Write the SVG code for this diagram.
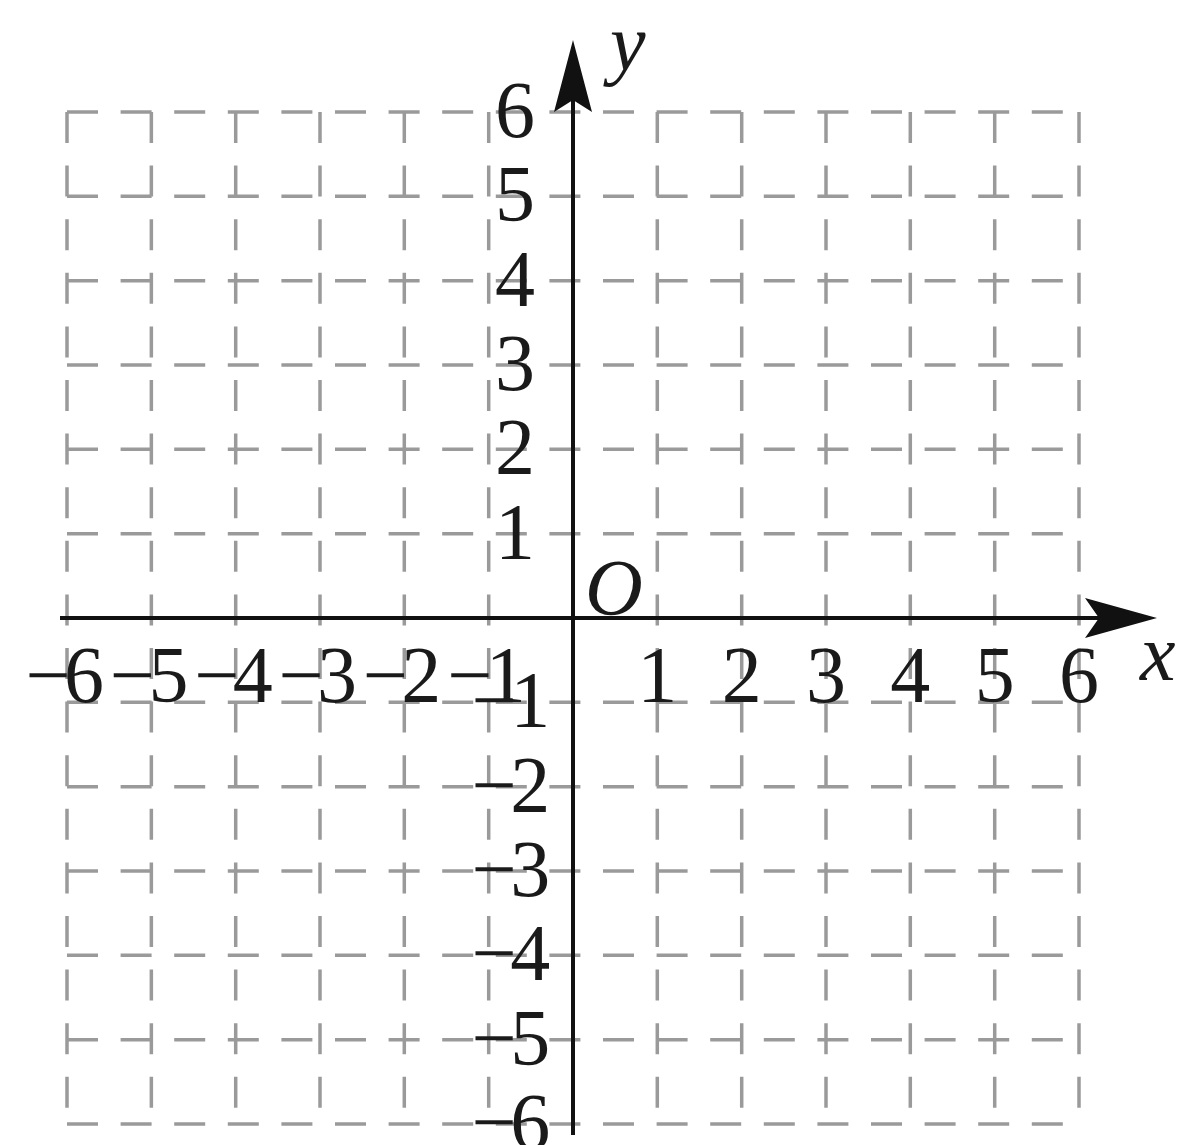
<svg xmlns="http://www.w3.org/2000/svg" width="1179" height="1145" viewBox="0 0 1179 1145">
<style>
.grid line{stroke:#9a9a9a;stroke-width:3.5;stroke-dasharray:31 22.6;fill:none}
.axis{stroke:#111;stroke-width:4;fill:none}
.head{fill:#111;stroke:none}
text{font-family:"Liberation Serif","Times New Roman",serif;font-size:80px;fill:#1a1a1a}
.c{text-anchor:middle}
.e{text-anchor:end}
.it{font-style:italic}
</style>
<rect width="1179" height="1145" fill="#fff"/>
<g id="grid" class="grid">
<line x1="67" y1="112" x2="1079" y2="112"/>
<line x1="67" y1="196.35" x2="1079" y2="196.35"/>
<line x1="67" y1="280.7" x2="1079" y2="280.7"/>
<line x1="67" y1="365" x2="1079" y2="365"/>
<line x1="67" y1="449.3" x2="1079" y2="449.3"/>
<line x1="67" y1="533.7" x2="1079" y2="533.7"/>
<line x1="67" y1="618" x2="1079" y2="618"/>
<line x1="67" y1="702.3" x2="1079" y2="702.3"/>
<line x1="67" y1="786.7" x2="1079" y2="786.7"/>
<line x1="67" y1="871" x2="1079" y2="871"/>
<line x1="67" y1="955.3" x2="1079" y2="955.3"/>
<line x1="67" y1="1039.7" x2="1079" y2="1039.7"/>
<line x1="67" y1="1124" x2="1079" y2="1124"/>
<line x1="67" y1="112" x2="67" y2="1124"/>
<line x1="151.35" y1="112" x2="151.35" y2="1124"/>
<line x1="235.7" y1="112" x2="235.7" y2="1124"/>
<line x1="320" y1="112" x2="320" y2="1124"/>
<line x1="404.3" y1="112" x2="404.3" y2="1124"/>
<line x1="488.7" y1="112" x2="488.7" y2="1124"/>
<line x1="573" y1="112" x2="573" y2="1124"/>
<line x1="657.3" y1="112" x2="657.3" y2="1124"/>
<line x1="741.7" y1="112" x2="741.7" y2="1124"/>
<line x1="826" y1="112" x2="826" y2="1124"/>
<line x1="910.3" y1="112" x2="910.3" y2="1124"/>
<line x1="994.7" y1="112" x2="994.7" y2="1124"/>
<line x1="1079" y1="112" x2="1079" y2="1124"/>
</g>
<g id="axes">
<line class="axis" x1="60" y1="618" x2="1100" y2="618"/>
<line class="axis" x1="573" y1="1135" x2="573" y2="100"/>
<polygon class="head" points="1157,618 1085,598 1099,618 1085,638"/>
<polygon class="head" points="573,40 554,112 573,100 592,112"/>
</g>
<g id="x-labels">
<text x="25.5" y="702">−<tspan dx="-6.6">6</tspan></text>
<text x="109.85" y="702">−<tspan dx="-6.6">5</tspan></text>
<text x="194.2" y="702">−<tspan dx="-6.6">4</tspan></text>
<text x="278.5" y="702">−<tspan dx="-6.6">3</tspan></text>
<text x="362.8" y="702">−<tspan dx="-6.6">2</tspan></text>
<text x="447.2" y="702">−<tspan dx="-6.6">1</tspan></text>
<text class="c" x="657.3" y="702">1</text>
<text class="c" x="741.7" y="702">2</text>
<text class="c" x="826" y="702">3</text>
<text class="c" x="910.3" y="702">4</text>
<text class="c" x="994.7" y="702">5</text>
<text class="c" x="1079" y="702">6</text>
</g>
<g id="y-labels">
<text class="e" x="535" y="137">6</text>
<text class="e" x="535" y="221.35">5</text>
<text class="e" x="535" y="305.7">4</text>
<text class="e" x="535" y="390">3</text>
<text class="e" x="535" y="474.3">2</text>
<text class="e" x="535" y="558.7">1</text>
<text x="471.6" y="727.3">−<tspan dx="-6.6">1</tspan></text>
<text x="471.6" y="811.7">−<tspan dx="-6.6">2</tspan></text>
<text x="471.6" y="896">−<tspan dx="-6.6">3</tspan></text>
<text x="471.6" y="980.3">−<tspan dx="-6.6">4</tspan></text>
<text x="471.6" y="1064.7">−<tspan dx="-6.6">5</tspan></text>
<text x="471.6" y="1149">−<tspan dx="-6.6">6</tspan></text>
</g>
<g id="axis-names">
<text class="it" x="585" y="615">O</text>
<text class="it" x="1140" y="680">x</text>
<text class="it" x="610" y="70">y</text>
</g>
</svg>
